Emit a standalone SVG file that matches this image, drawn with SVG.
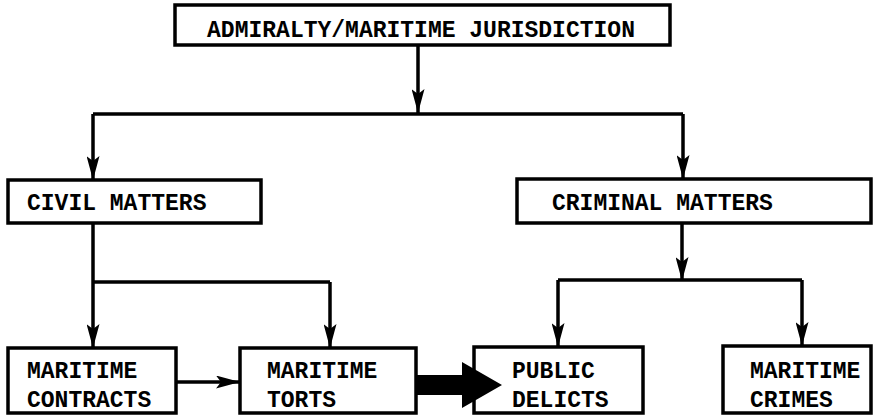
<svg xmlns="http://www.w3.org/2000/svg" width="873" height="416" viewBox="0 0 873 416">
<style>
.box{fill:#fff;stroke:#000;stroke-width:3.5}
.t{font-family:"Liberation Mono","Courier New",monospace;font-weight:bold;font-size:23px;fill:#000}
.ln{fill:none;stroke:#000;stroke-width:3.5}
.ar{fill:none;stroke:#000;stroke-width:3.5;marker-end:url(#ah)}
</style>
<defs>
<marker id="ah" viewBox="0 0 24 13" refX="24" refY="6.5" markerWidth="24" markerHeight="13" markerUnits="userSpaceOnUse" orient="auto">
<path d="M0,0 L24,6.5 L0,13 L5,6.5 Z" fill="#000"/>
</marker>
</defs>
<rect width="873" height="416" fill="#fff"/>
<g id="n-admiralty"><rect class="box" x="175" y="5" width="495" height="40"/><text class="t" x="421" y="37" text-anchor="middle">ADMIRALTY/MARITIME JURISDICTION</text></g>
<g id="n-civil"><rect class="box" x="8" y="180" width="253" height="43"/><text class="t" x="27" y="210">CIVIL MATTERS</text></g>
<g id="n-criminal"><rect class="box" x="517" y="179" width="354" height="44"/><text class="t" x="552" y="210">CRIMINAL MATTERS</text></g>
<g id="n-contracts"><rect class="box" x="8" y="348" width="168" height="65"/><text class="t" x="27" y="378">MARITIME</text><text class="t" x="27" y="407">CONTRACTS</text></g>
<g id="n-torts"><rect class="box" x="240" y="348" width="176" height="65"/><text class="t" x="267" y="378">MARITIME</text><text class="t" x="267" y="407">TORTS</text></g>
<g id="n-public"><rect class="box" x="474" y="347" width="169" height="66"/><text class="t" x="512" y="378">PUBLIC</text><text class="t" x="512" y="407">DELICTS</text></g>
<g id="n-crimes"><rect class="box" x="723" y="346" width="148" height="67"/><text class="t" x="750" y="378">MARITIME</text><text class="t" x="750" y="407">CRIMES</text></g>
<g id="connectors">
<path class="ar" d="M418,45 V113"/>
<path class="ln" d="M93,114 H683"/>
<path class="ar" d="M93,114 V180"/>
<path class="ar" d="M683,114 V179"/>
<path class="ar" d="M93,223 V348"/>
<path class="ln" d="M93,282 H330"/>
<path class="ar" d="M330,282 V348"/>
<path class="ar" d="M682,223 V281"/>
<path class="ln" d="M558,280 H802"/>
<path class="ar" d="M558,280 V347"/>
<path class="ar" d="M802,280 V346"/>
<path class="ar" d="M176,382 H240"/>
<polygon points="416,375 462,375 462,362 502,385 462,408 462,395 416,395" fill="#000"/>
</g>
</svg>
